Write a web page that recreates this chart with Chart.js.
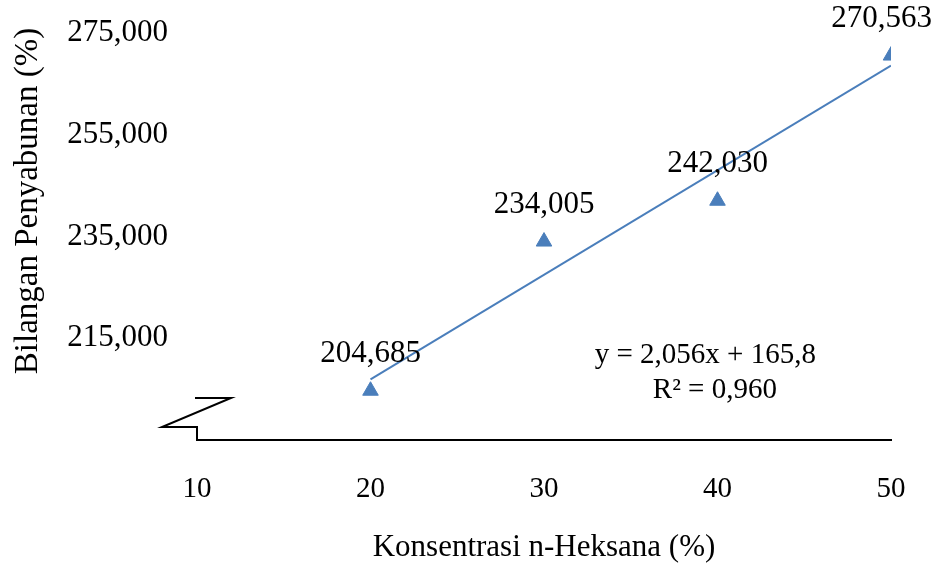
<!DOCTYPE html>
<html>
<head>
<meta charset="utf-8">
<script src="https://cdn.jsdelivr.net/npm/chart.js@4.4.1/dist/chart.umd.min.js"></script>
<style>
  html, body { margin: 0; padding: 0; background: #fff; }
  #wadah { width: 934px; height: 566px; }
</style>
</head>
<body>
<div id="wadah"><canvas id="grafik" width="934" height="566"></canvas></div>
<script>
// data konsentrasi n-heksana vs bilangan penyabunan
const konsentrasi = [20, 30, 40, 50]
const bilangan = [204.685, 234.005, 242.030, 270.563]
const tickX = [10, 20, 30, 40, 50]
const tickY = [215, 235, 255, 275]
// garis tren dari persamaan y = 2,056x + 165,8
const trenKoef = [2.056, 165.8]
const trenX = [20, 50]
const teksPersamaan = ['y = 2,056x + 165,8', 'R² = 0,960']

const biru = '#4A7EBB'
const hurufSerif = "'Liberation Serif', 'Times New Roman', serif"

function formatKoma(v) {
  return v.toFixed(3).replace('.', ',')
}

const dataTitik = konsentrasi.map((x, i) => ({ x: x, y: bilangan[i] }))
const dataTren = trenX.map(x => ({ x: x, y: trenKoef[0] * x + trenKoef[1] }))

// label nilai di atas titik
const labelTitik = {
  id: 'labelTitik',
  afterDatasetsDraw(chart) {
    const ctx = chart.ctx
    const meta = chart.getDatasetMeta(1)
    ctx.save()
    ctx.font = '31px ' + hurufSerif
    ctx.fillStyle = '#000'
    ctx.textAlign = 'center'
    ctx.textBaseline = 'middle'
    meta.data.forEach((el, i) => {
      const teks = formatKoma(bilangan[i])
      const w = ctx.measureText(teks).width
      let x = el.x
      if (x + w / 2 > chart.width - 2) x = chart.width - 2 - w / 2
      ctx.fillText(teks, x, el.y - 37)
    })
    ctx.restore()
  }
}

// persamaan regresi, judul sumbu y, tanda patah sumbu
const hiasan = {
  id: 'hiasan',
  afterDraw(chart) {
    const ctx = chart.ctx
    const sx = chart.scales.x
    const sy = chart.scales.y
    const area = chart.chartArea
    ctx.save()

    ctx.font = '29px ' + hurufSerif
    ctx.fillStyle = '#000'
    ctx.textAlign = 'center'
    ctx.textBaseline = 'middle'
    ctx.fillText(teksPersamaan[0], sx.getPixelForValue(39.3), sy.getPixelForValue(211.7))
    ctx.fillText(teksPersamaan[1], sx.getPixelForValue(39.85), sy.getPixelForValue(204.8))

    ctx.save()
    ctx.translate(28, 201)
    ctx.rotate(-Math.PI / 2)
    ctx.font = '33px ' + hurufSerif
    ctx.fillText('Bilangan Penyabunan (%)', 0, 0)
    ctx.restore()

    const l = area.left
    const b = area.bottom
    ctx.strokeStyle = '#000'
    ctx.lineWidth = 2
    ctx.beginPath()
    ctx.moveTo(l, b)
    ctx.lineTo(l, b - 13)
    ctx.lineTo(l - 35, b - 13)
    ctx.lineTo(l + 34, b - 42)
    ctx.lineTo(l - 2, b - 42)
    ctx.stroke()
    ctx.restore()
  }
}

const grafik = new Chart(document.getElementById('grafik'), {
  type: 'scatter',
  data: {
    datasets: [
      {
        label: 'Tren',
        data: dataTren,
        showLine: true,
        borderColor: biru,
        borderWidth: 2,
        pointRadius: 0,
        fill: false
      },
      {
        label: 'Bilangan Penyabunan',
        data: dataTitik,
        pointStyle: 'triangle',
        pointRadius: 9,
        backgroundColor: biru,
        borderColor: biru,
        borderWidth: 1
      }
    ]
  },
  options: {
    responsive: false,
    animation: false,
    layout: { padding: { top: 33, right: 43, left: 0, bottom: 0 } },
    plugins: {
      legend: { display: false },
      tooltip: { enabled: false }
    },
    scales: {
      x: {
        type: 'linear',
        min: 10,
        max: 50,
        afterBuildTicks: s => { s.ticks = tickX.map(v => ({ value: v })) },
        afterFit: s => {
          s.height = 126
          s.paddingLeft = 0
          s.paddingRight = 0
        },
        grid: { display: false, drawTicks: false },
        border: { display: true, color: '#000', width: 2 },
        ticks: {
          color: '#000',
          padding: 32,
          font: { family: hurufSerif, size: 29 },
          callback: v => v
        },
        title: {
          display: true,
          text: 'Konsentrasi n-Heksana (%)',
          color: '#000',
          font: { family: hurufSerif, size: 31 },
          padding: { top: 0, bottom: 0 }
        }
      },
      y: {
        type: 'linear',
        min: 195,
        max: 275,
        afterBuildTicks: s => { s.ticks = tickY.map(v => ({ value: v })) },
        afterFit: s => {
          s.width = 197
          s.paddingTop = 0
          s.paddingBottom = 0
        },
        grid: { display: false, drawTicks: false },
        border: { display: false },
        ticks: {
          color: '#000',
          padding: 29,
          font: { family: hurufSerif, size: 31 },
          callback: v => formatKoma(v)
        }
      }
    }
  },
  plugins: [labelTitik, hiasan]
})
</script>
</body>
</html>
